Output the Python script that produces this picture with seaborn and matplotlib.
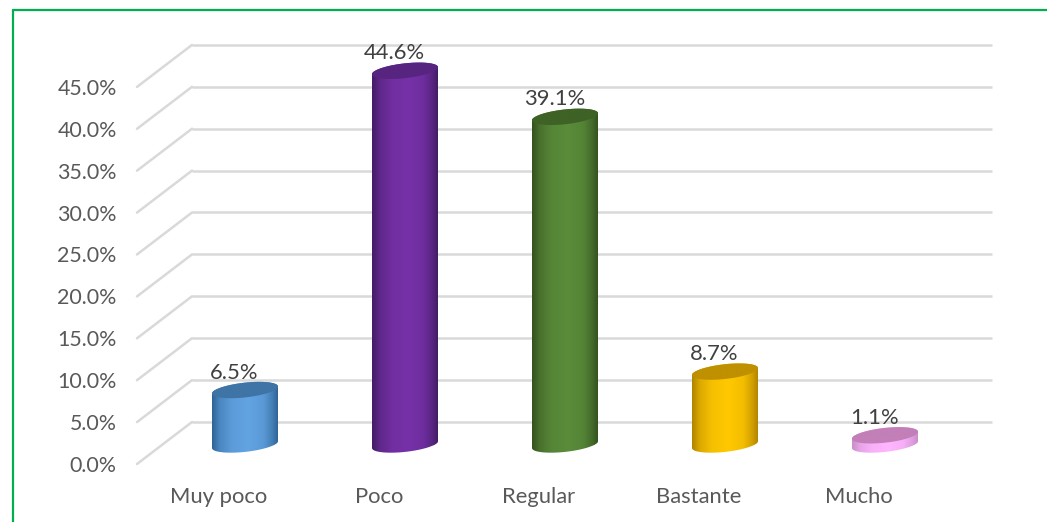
import numpy as np
import matplotlib
matplotlib.use("Agg")
import matplotlib.pyplot as plt
import seaborn as sns
from matplotlib.colors import LinearSegmentedColormap, to_rgb
from matplotlib.patches import Polygon
from matplotlib.lines import Line2D

categories = ["Muy poco", "Poco", "Regular", "Bastante", "Mucho"]
values = [6.5, 44.6, 39.1, 8.7, 1.1]
value_labels = ["6.5%", "44.6%", "39.1%", "8.7%", "1.1%"]
axis_ticks = [0, 5, 10, 15, 20, 25, 30, 35, 40, 45]
axis_labels = ["0.0%", "5.0%", "10.0%", "15.0%", "20.0%", "25.0%", "30.0%", "35.0%", "40.0%", "45.0%"]

body_colors = ["#62A3E2", "#7631A8", "#5A8C3A", "#FFC800", "#FFB5FF"]
edge_colors = ["#2F6496", "#431C66", "#33521F", "#B08400", "#C88EC8"]
top_colors = ["#3F74A6", "#572580", "#3F6226", "#BF9000", "#C27FB8"]

W, H = 1047, 522
sns.set_theme(style="white")
plt.rcParams["font.family"] = ["Lato", "DejaVu Sans"]

fig = plt.figure(figsize=(W / 100, H / 100), dpi=100, facecolor="white")
L, R, T, B = 137, 993, 40, 464
ax = fig.add_axes([L / W, 1 - B / H, (R - L) / W, (B - T) / H])

PX_X = 160.0      # pixels per category
PX_Y = 8.38       # pixels per percent
BASE = 444.5      # pixel row of the bar plane's zero
xlim = ((L - 245) / PX_X, (R - 245) / PX_X)
ylim = ((BASE - B) / PX_Y, (BASE - T) / PX_Y)

BAR_W = 66 / PX_X
sns.barplot(x=categories, y=values, hue=categories, palette=body_colors, legend=False,
            width=BAR_W, saturation=1, order=categories, ax=ax, zorder=3)

# walls: back-plane gridlines and the diagonal floor/side lines
back_shift = 22.5 / PX_Y
front_shift = -19.5 / PX_Y
grid = "#D9D9D9"
for v in axis_ticks:
    ax.plot([(192 - 245) / PX_X, (992 - 245) / PX_X], [v + back_shift] * 2,
            color=grid, lw=1.8, zorder=1, solid_capstyle="butt", clip_on=False)
    ax.plot([xlim[0], (192 - 245) / PX_X], [v + front_shift, v + back_shift],
            color=grid, lw=1.8, zorder=1, clip_on=False)


def ellipse(cx, v, t):
    return np.column_stack([cx + 33 * np.cos(t) / PX_X,
                            v + (3.5 * np.cos(t) + 7.4 * np.sin(t)) / PX_Y])


def ramp(edge, mid):
    e, m = np.array(to_rgb(edge)), np.array(to_rgb(mid))
    return LinearSegmentedColormap.from_list("r", [
        (0, e), (0.12, e * .45 + m * .55), (0.3, e * .12 + m * .88),
        (0.55, m), (0.78, e * .15 + m * .85), (0.92, e * .6 + m * .4), (1, e)])


grad = np.linspace(0, 1, 256).reshape(1, -1)
for i, (v, bar) in enumerate(zip(values, ax.patches)):
    lower = np.linspace(2 * np.pi, np.pi, 60)
    upper = np.linspace(np.pi, 0, 60)
    body = Polygon(np.vstack([ellipse(i, 0, lower), ellipse(i, v, upper)]),
                   closed=True, transform=ax.transData, fc="none", ec="none")
    ax.add_patch(body)
    bar.set_clip_path(body)
    extent = (i - BAR_W / 2, i + BAR_W / 2, -1.2, v + 1.2)
    im = ax.imshow(grad, cmap=ramp(edge_colors[i], body_colors[i]), extent=extent,
                   aspect="auto", zorder=4, interpolation="bilinear")
    im.set_clip_path(body)

    top = Polygon(ellipse(i, v, np.linspace(0, 2 * np.pi, 120)), closed=True,
                  transform=ax.transData, fc="none", ec="none")
    ax.add_patch(top)
    im2 = ax.imshow(grad, cmap=ramp(top_colors[i], top_colors[i]), extent=extent,
                    aspect="auto", zorder=5, interpolation="bilinear")
    im2.set_clip_path(top)

    ax.annotate(value_labels[i], (i, v), xytext=(-10.5 * .72, 17.5 * .72),
                textcoords="offset points", ha="center", va="center",
                fontsize=15.8, color="#404040", zorder=6, annotation_clip=False)

ax.set_xlim(xlim)
ax.set_ylim(ylim)
ax.patch.set_alpha(0)
for s in ax.spines.values():
    s.set_visible(False)
ax.set_yticks([v + front_shift for v in axis_ticks])
ax.set_yticklabels(axis_labels)
ax.set_xticks([i - 26 / PX_X for i in range(len(categories))])
ax.set_xticklabels(categories)
ax.tick_params(axis="y", length=0, pad=14.5, labelsize=15.4, labelcolor="#595959")
ax.tick_params(axis="x", length=0, pad=16.5, labelsize=15.8, labelcolor="#595959")
ax.grid(False)

# green frame of the pasted figure
green = "#00B050"
fig.add_artist(Line2D([12.5 / W, 12.5 / W], [0, 1 - 10 / H], color=green, lw=1.6,
                      transform=fig.transFigure))
fig.add_artist(Line2D([12.5 / W, 1], [1 - 10 / H, 1 - 10 / H], color=green, lw=1.6,
                      transform=fig.transFigure))

fig.savefig("out.png", dpi=100, facecolor="white")
